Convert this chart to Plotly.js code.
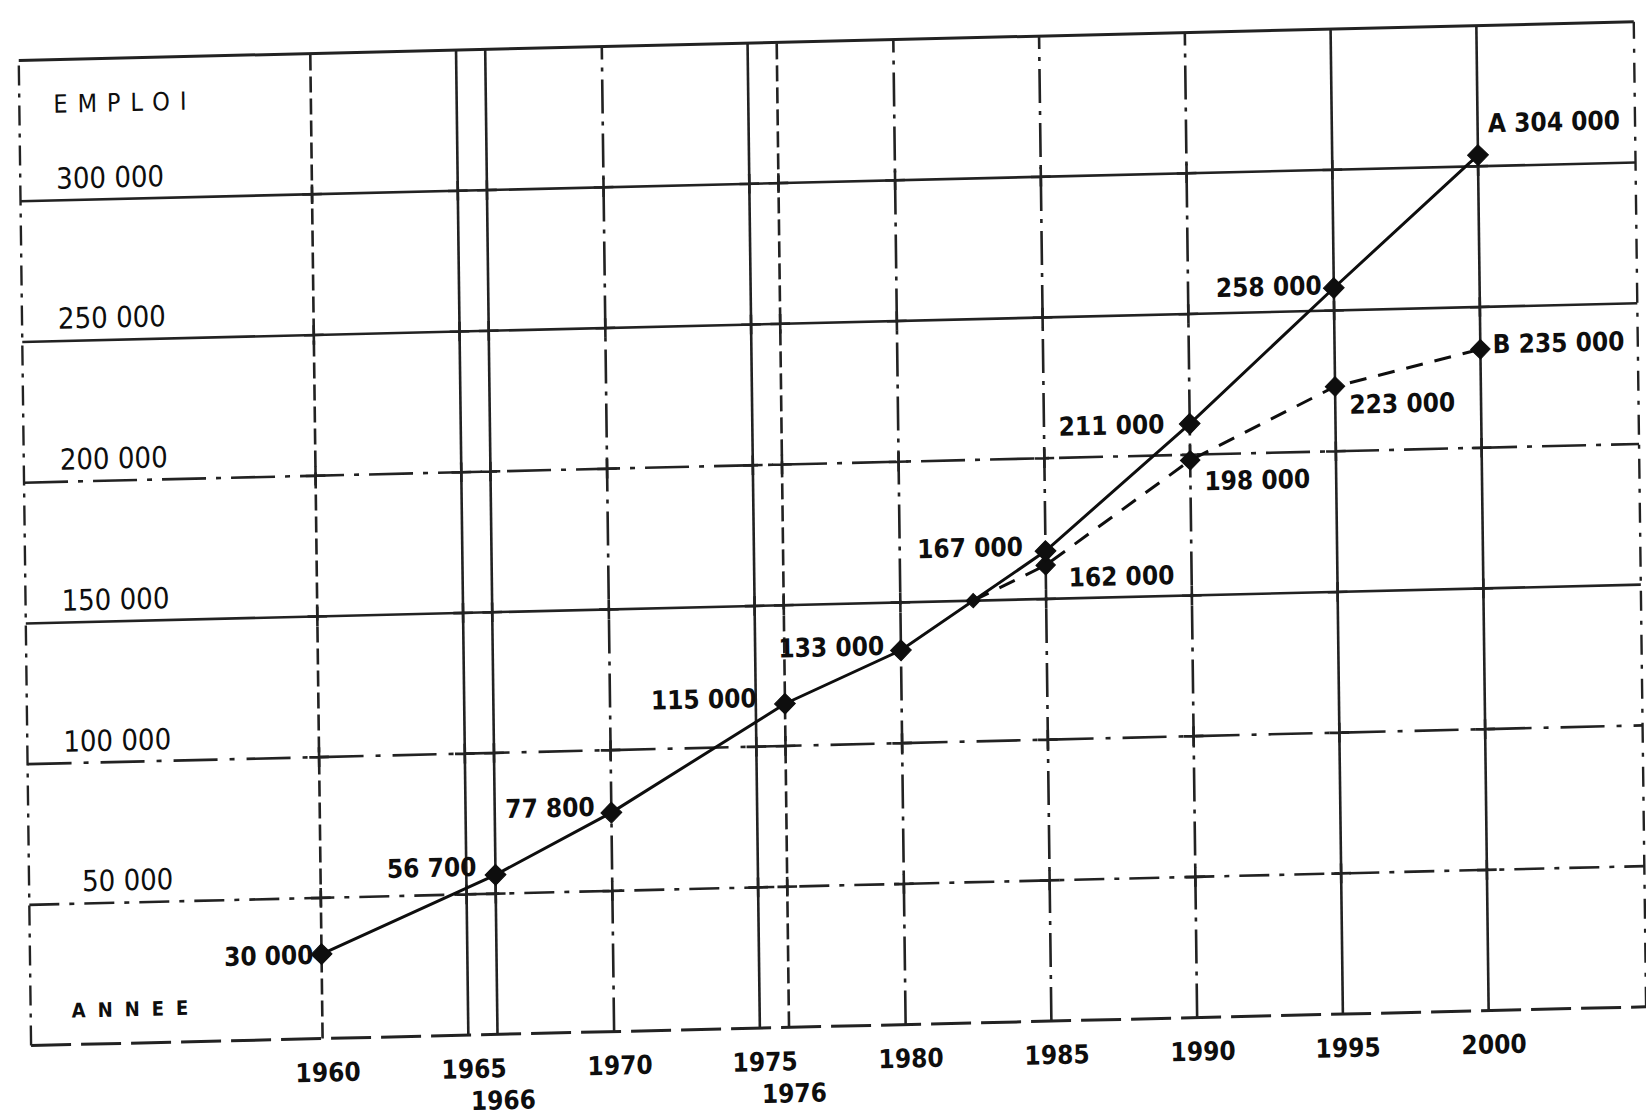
<!DOCTYPE html>
<html>
<head>
<meta charset="utf-8">
<script src="https://cdn.plot.ly/plotly-3.0.1.min.js"></script>
<style>
  html, body { margin: 0; padding: 0; background: #fff; overflow: hidden; width: 1646px; height: 1117px; }
  /* the whole sheet sits slightly askew on the page */
  #chart { width: 1646px; height: 1180px; transform-origin: 0 0; transform: matrix(1, -0.024, 0.0125, 1, 0, 0); }
</style>
</head>
<body>
<div id="chart"></div>
<script>
// Emploi : évolution observée puis deux hypothèses (A et B) jusqu'en l'an 2000
const years   = [1960, 1966, 1970, 1976, 1980, 1985, 1990, 1995, 2000];
const emploiA = [30000, 56700, 77800, 115000, 133000, 167000, 211000, 258000, 304000];
const labelsA = ['30 000', '56 700', '77 800', '115 000', '133 000', '167 000', '211 000', '258 000', 'A 304 000'];

const yearsB  = [1982.5, 1985, 1990, 1995, 2000];
const emploiB = [150000, 162000, 198000, 223000, 235000];
const labelsB = ['', '162 000', '198 000', '223 000', 'B 235 000'];

const gridYears  = [1960, 1965, 1966, 1970, 1975, 1976, 1980, 1985, 1990, 1995, 2000];
const yearLabels = ['1960', '1965', '1966', '1970', '1975', '1976', '1980', '1985', '1990', '1995', '2000'];
const gridValues  = [50000, 100000, 150000, 200000, 250000, 300000];
const valueLabels = ['50 000', '100 000', '150 000', '200 000', '250 000', '300 000'];

// ---- styling -------------------------------------------------------------
const INK = '#0e0e0e';
const GRID = '#222222';
const FONT = 'DejaVu Sans Condensed, DejaVu Sans, sans-serif';

const hDash = {50000: '30px,10px,5px,10px', 100000: '44px,12px,5px,12px', 150000: 'solid',
               200000: '44px,10px,5px,10px', 250000: 'solid', 300000: 'solid'};
const vDash = {1960: '16px,6px', 1965: 'solid', 1966: 'solid', 1970: '34px,8px,4px,8px',
               1975: 'solid', 1976: '16px,6px', 1980: '34px,8px,4px,8px', 1985: '34px,8px,4px,8px',
               1990: '34px,8px,4px,8px', 1995: 'solid', 2000: 'solid'};

// label offsets (pixels) relative to each point
const offA = [[-6, 0], [-16, 8], [-14, 6], [-26, 6], [-15, 5], [-20, 5], [-23, 0], [-10, 3], [8, 31]];
const offB = [[0, 0], [21, -13], [12, -21], [12, -19], [10, 5]];
// lower row for the years squeezed next to another one
const secondRow = {1966: true, 1976: true};

// ---- grid ---------------------------------------------------------------
const shapes = [];
gridYears.forEach(yr => shapes.push({
  type: 'line', xref: 'x', yref: 'paper', x0: yr, x1: yr, y0: 0, y1: 1,
  line: {color: GRID, width: 2.6, dash: vDash[yr]}, layer: 'below'
}));
gridValues.forEach(v => shapes.push({
  type: 'line', xref: 'paper', yref: 'y', x0: 0, x1: 1, y0: v, y1: v,
  line: {color: GRID, width: 2.6, dash: hDash[v]}, layer: 'below'
}));
// frame
shapes.push({type: 'line', xref: 'paper', yref: 'paper', x0: 0, x1: 1, y0: 1, y1: 1,
  line: {color: GRID, width: 3}, layer: 'below'});
shapes.push({type: 'line', xref: 'paper', yref: 'paper', x0: 0, x1: 1, y0: 0, y1: 0,
  line: {color: GRID, width: 3, dash: '40px,10px'}, layer: 'below'});
shapes.push({type: 'line', xref: 'paper', yref: 'paper', x0: 0, x1: 0, y0: 0, y1: 1,
  line: {color: GRID, width: 2.4, dash: '20px,8px,4px,8px'}, layer: 'below'});
shapes.push({type: 'line', xref: 'paper', yref: 'paper', x0: 1, x1: 1, y0: 0, y1: 1,
  line: {color: GRID, width: 2.4, dash: '20px,10px,4px,10px'}, layer: 'below'});

// small crosses where the grid lines meet
const crossX = [], crossY = [];
gridYears.forEach(yr => gridValues.forEach(v => { crossX.push(yr); crossY.push(v); }));

// ---- annotations ----------------------------------------------------------
const annotations = [];
const txt = (size, weight) => ({family: FONT, size: size, color: INK, weight: weight || 'normal'});

years.forEach((yr, i) => {
  const right = i < years.length - 1;
  annotations.push({
    x: yr, y: emploiA[i], xref: 'x', yref: 'y', text: labelsA[i], showarrow: false,
    xanchor: right ? 'right' : 'left', yanchor: 'middle',
    xshift: offA[i][0], yshift: offA[i][1], font: txt(26, 'bold')
  });
});
yearsB.forEach((yr, i) => {
  if (!labelsB[i]) return;
  annotations.push({
    x: yr, y: emploiB[i], xref: 'x', yref: 'y', text: labelsB[i], showarrow: false,
    xanchor: 'left', yanchor: 'middle',
    xshift: offB[i][0], yshift: offB[i][1], font: txt(26, 'bold')
  });
});
gridValues.forEach((v, i) => annotations.push({
  x: 1955, y: v, xref: 'x', yref: 'y', text: valueLabels[i], showarrow: false,
  xanchor: 'right', yanchor: 'bottom', yshift: 3, font: txt(29)
}));
gridYears.forEach((yr, i) => annotations.push({
  x: yr, y: 0, xref: 'x', yref: 'y', text: yearLabels[i], showarrow: false,
  xanchor: 'center', yanchor: 'middle', xshift: 5,
  yshift: secondRow[yr] ? -66 : -34, font: txt(26, 'bold')
}));
annotations.push({
  x: 0.02, y: 1, xref: 'paper', yref: 'paper', xanchor: 'left', yanchor: 'top', yshift: -28,
  text: '<span style="letter-spacing:10px">EMPLOI</span>', showarrow: false, font: txt(25)
});
annotations.push({
  x: 0.024, y: 0, xref: 'paper', yref: 'paper', xanchor: 'left', yanchor: 'bottom', yshift: 20,
  text: '<span style="letter-spacing:12px">ANNEE</span>', showarrow: false, font: txt(20, 'bold')
});

// ---- traces -------------------------------------------------------------
const traces = [
  {
    x: crossX, y: crossY, type: 'scatter', mode: 'markers',
    marker: {symbol: 'cross-thin', size: 14, line: {color: GRID, width: 2.6}}
  },
  {
    x: yearsB, y: emploiB, type: 'scatter', mode: 'lines',
    line: {color: INK, width: 3, dash: '17px,12px'}
  },
  {
    x: yearsB, y: emploiB, type: 'scatter', mode: 'markers',
    marker: {symbol: 'diamond', size: yearsB.map((_, i) => i === 0 ? 11 : 15), color: INK,
             opacity: 1, line: {color: INK, width: 1}}
  },
  {
    x: years, y: emploiA, type: 'scatter', mode: 'lines+markers',
    line: {color: INK, width: 3},
    marker: {symbol: 'diamond', size: 16, color: INK, line: {color: INK, width: 1}}
  }
];

const layout = {
  width: 1646, height: 1180,
  margin: {l: 18, r: 13, t: 61, b: 134},
  paper_bgcolor: '#ffffff', plot_bgcolor: '#ffffff',
  showlegend: false, hovermode: false,
  xaxis: {range: [1950, 2005.4], visible: false, fixedrange: true},
  yaxis: {range: [0, 350000], visible: false, fixedrange: true},
  shapes: shapes, annotations: annotations
};

Plotly.newPlot('chart', traces, layout, {staticPlot: true, displayModeBar: false});
</script>
</body>
</html>
